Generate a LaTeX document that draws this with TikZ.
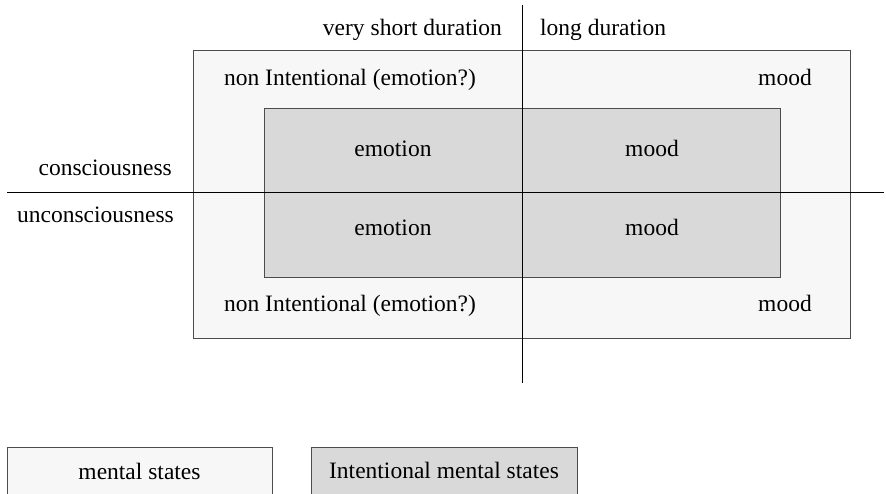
\documentclass[tikz,border=0pt]{standalone}
\usepackage{fontspec}
\setmainfont{Liberation Serif}
\tikzset{
  outerbox/.style={draw=black!70, line width=1pt, fill=black!3, inner sep=0pt},
  innerbox/.style={draw=black!70, line width=1pt, fill=black!15, inner sep=0pt},
  lbl/.style={font=\fontsize{23.5}{28}\selectfont, inner sep=0pt, anchor=base},
}
\begin{document}
\begin{tikzpicture}[x=1pt,y=-1pt]
        \useasboundingbox (0,0) rectangle (886,494);
        % the two boxes
        \node[outerbox, minimum width=657pt, minimum height=287pt] (mental) at (521.5,194.5) {};
        \node[innerbox, minimum width=516pt, minimum height=169pt] (intent) at (522,193.5) {};
        % axes
        \coordinate (top) at (522,5);
        \coordinate (bottom) at (522,383);
        \coordinate (left) at (7,193);
        \coordinate (right) at (884,193);
        \draw[line width=1pt] (top) -- (bottom);
        \draw[line width=1pt] (left) -- (right);
        % axis labels
        \node[lbl, anchor=base east] (short) at (502,36) {very short duration};
        \node[lbl, anchor=base west] (long) at (540,36) {long duration};
        \node[lbl, anchor=base east] (con) at (172,176) {consciousness};
        \node[lbl, anchor=base east] (uncon) at (174,223) {unconsciousness};
        % labels in the boxes
        \node[lbl] (ni1) at (350,86) {non Intentional (emotion?)};
        \node[lbl] (mood1) at (785,86) {mood};
        \node[lbl] (emo1) at (393,157) {emotion};
        \node[lbl] (mood2) at (652,157) {mood};
        \node[lbl] (emo2) at (393,236) {emotion};
        \node[lbl] (mood3) at (652,236) {mood};
        \node[lbl] (ni2) at (350,312) {non Intentional (emotion?)};
        \node[lbl] (mood4) at (785,312) {mood};
        % legend
        \node[outerbox, minimum width=265pt, minimum height=50pt] (legmental) at (139.5,472) {};
        \node[innerbox, minimum width=266pt, minimum height=50pt] (legintent) at (444,472) {};
        \node[lbl] (legmentaltxt) at (legmental.center |- 0,479) {mental states};
        \node[lbl] (legintenttxt) at (legintent.center |- 0,478) {Intentional mental states};
\end{tikzpicture}
\end{document}
